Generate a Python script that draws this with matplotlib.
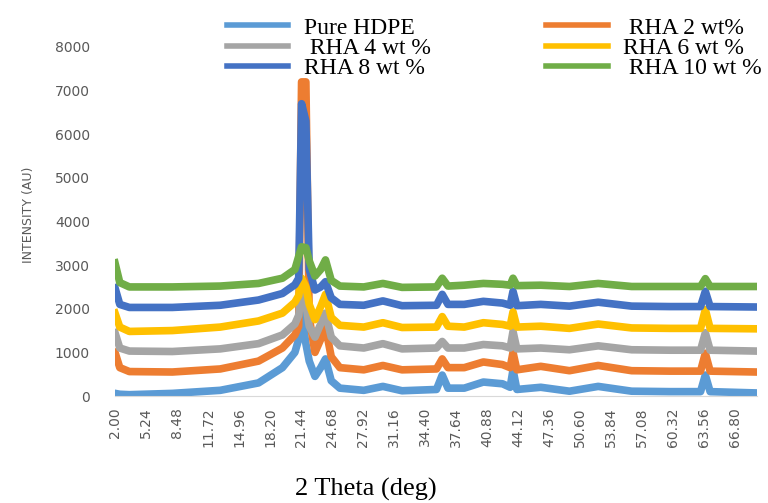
import matplotlib
matplotlib.use("Agg")
import matplotlib.pyplot as plt

# 2 theta positions (deg) where intensities were read
two_theta = [2.0, 2.5, 3.5, 8, 13, 17, 19.5, 20.8, 21.2, 21.5, 21.95, 22.3, 22.9, 23.5, 24.0, 24.6, 25.5,
             28, 30.0, 32, 35.6, 36.2, 36.8, 38.5, 40.5, 42.5, 43.3, 43.6, 44.0, 46.5, 49.5, 52.5,
             56, 60, 63.2, 63.7, 64.2, 69.0]

pure_hdpe = [60, 40, 30, 60, 130, 300, 650, 1000, 1300, 1900, 1200, 800, 450, 650, 850, 350, 180,
             130, 220, 120, 150, 480, 180, 180, 320, 280, 200, 600, 150, 200, 110, 220,
             110, 100, 100, 480, 100, 70]
rha_2 = [1000, 650, 560, 550, 620, 800, 1100, 1400, 1600, 7200, 7200, 1800, 1000, 1300, 1580, 900, 650,
         600, 700, 600, 620, 850, 650, 650, 780, 720, 650, 1000, 600, 680, 580, 700,
         580, 570, 570, 980, 570, 550]
rha_4 = [1450, 1100, 1030, 1020, 1080, 1200, 1400, 1650, 1850, 2400, 2100, 1600, 1350, 1650, 1900, 1350, 1150,
         1100, 1200, 1080, 1100, 1250, 1100, 1100, 1180, 1150, 1100, 1480, 1080, 1100, 1060, 1150,
         1060, 1050, 1050, 1450, 1050, 1030]
rha_6 = [1900, 1580, 1480, 1500, 1580, 1720, 1900, 2150, 2300, 2700, 2500, 2100, 1750, 2050, 2330, 1800, 1620,
         1580, 1680, 1570, 1580, 1820, 1600, 1580, 1680, 1640, 1600, 1930, 1580, 1600, 1550, 1650,
         1560, 1550, 1550, 1980, 1550, 1540]
rha_8 = [2480, 2100, 2030, 2030, 2080, 2200, 2350, 2550, 2700, 6700, 6300, 2900, 2430, 2500, 2620, 2250, 2100,
         2080, 2180, 2070, 2080, 2330, 2100, 2100, 2170, 2130, 2080, 2400, 2070, 2100, 2060, 2150,
         2060, 2050, 2050, 2400, 2050, 2040]
rha_10 = [3050, 2600, 2500, 2500, 2520, 2580, 2700, 2900, 3200, 3420, 3400, 3100, 2750, 2900, 3120, 2650, 2520,
          2500, 2580, 2490, 2500, 2700, 2520, 2540, 2580, 2560, 2540, 2700, 2530, 2540, 2510, 2580,
          2510, 2510, 2510, 2690, 2510, 2510]

labels = ["Pure HDPE", " RHA 2 wt%", " RHA 4 wt %", "RHA 6 wt %", "RHA 8 wt %", " RHA 10 wt %"]
colors = ["#5B9BD5", "#ED7D31", "#A5A5A5", "#FFC000", "#4472C4", "#70AD47"]
series = [pure_hdpe, rha_2, rha_4, rha_6, rha_8, rha_10]

x_ticks = [2.00 + 3.24 * k for k in range(21)]

fig = plt.figure(figsize=(7.68, 5.03), dpi=100)
ax = fig.add_axes([115 / 768, 1 - 396 / 503, (757 - 115) / 768, (396 - 47) / 503])

lines = []
for vals, lab, col in zip(series, labels, colors):
    ln, = ax.plot(two_theta, vals, color=col, lw=5.5, label=lab, solid_joinstyle="round")
    lines.append(ln)

ax.set_xlim(2.0, 69.1)
ax.set_ylim(0, 8000)
ax.set_yticks(range(0, 8001, 1000))
ax.set_xticks(x_ticks)
ax.set_xticklabels(["%.2f" % t for t in x_ticks], rotation=90)
ax.tick_params(axis="both", length=0, colors="#595959", labelsize=10)
ax.tick_params(axis="y", pad=18)
ax.tick_params(axis="x", pad=8)
for s in ["top", "right", "left"]:
    ax.spines[s].set_visible(False)
ax.spines["bottom"].set_color("#D9D9D9")

ax.set_ylabel("INTENSITY (AU)", color="#595959", fontsize=9, labelpad=8)
ax.yaxis.set_label_coords(-0.125, 0.52)
fig.text(366 / 768, 1 - 489 / 503, "2 Theta (deg)", family="Liberation Serif", fontsize=19,
         ha="center", va="center")

# legend: column 1 = HDPE, 4, 8 ; column 2 = 2, 6, 10
order = [0, 2, 4, 1, 3, 5]
leg = fig.legend([lines[i] for i in order], [labels[i] for i in order], ncol=2, frameon=False,
                 loc="upper left", bbox_to_anchor=(227 / 768, 1 - 17 / 503),
                 prop={"family": "Liberation Serif", "size": 17},
                 handlelength=2.6, handletextpad=0.65,
                 columnspacing=4.9, labelspacing=-0.05, borderpad=0, borderaxespad=0)
for h in leg.legend_handles:
    h.set_linewidth(4)

fig.savefig("out.png", dpi=100)
